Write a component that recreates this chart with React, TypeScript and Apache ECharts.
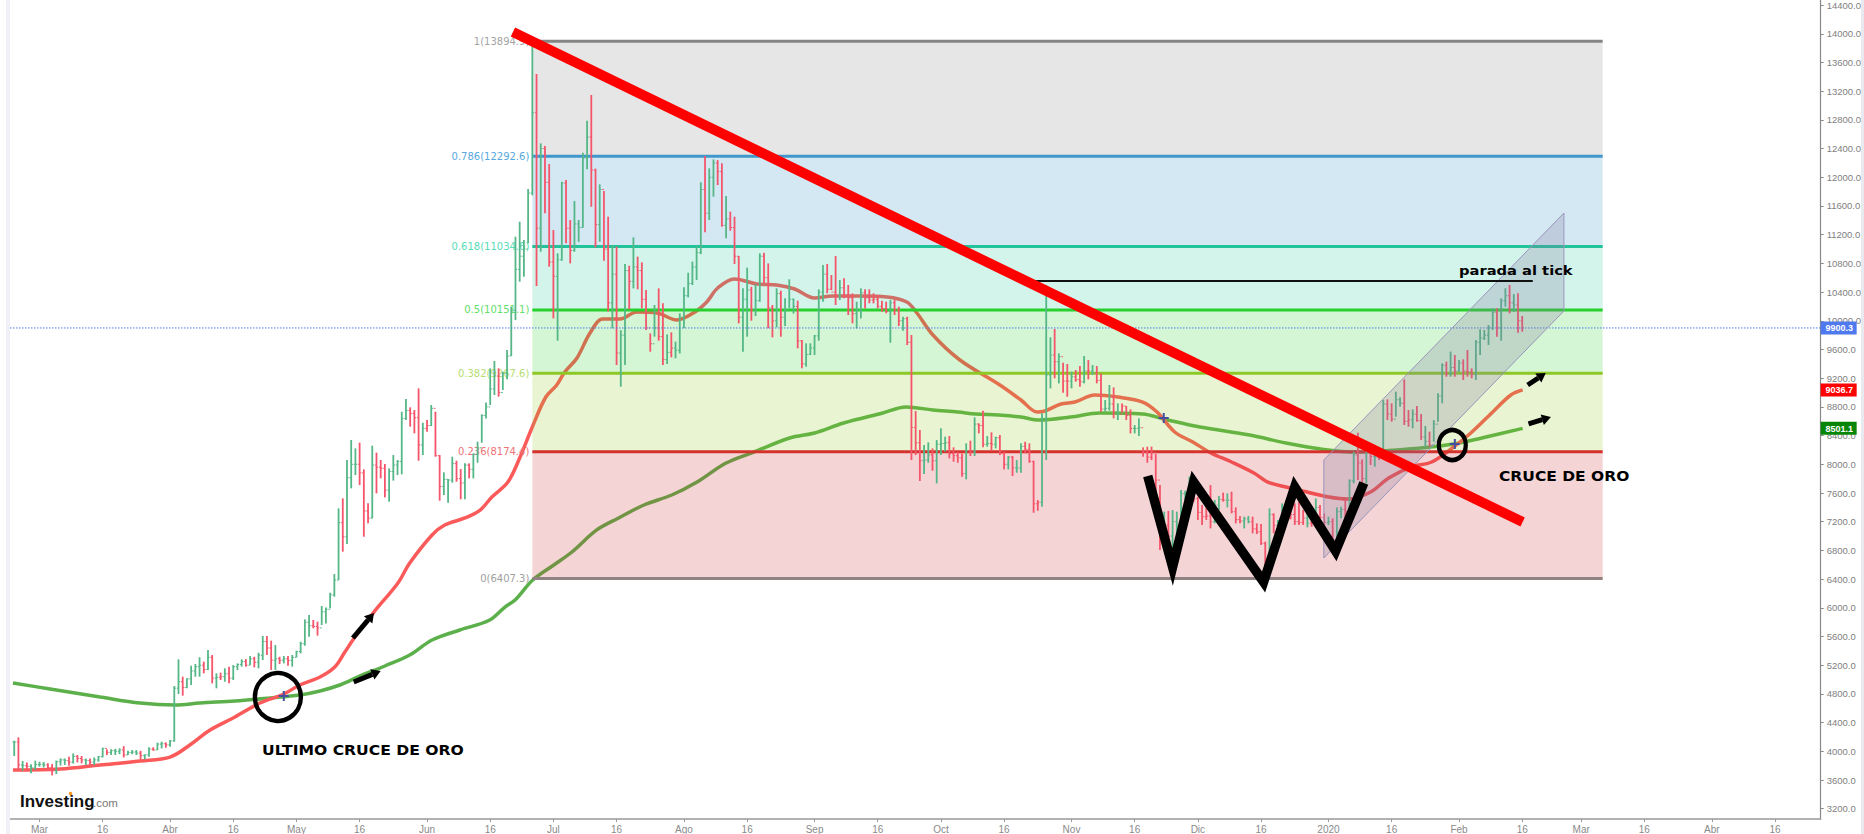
import React, { useEffect, useRef } from "react";
import * as echarts from "echarts";

// ---- axis ----
const xTickDays = [0, 15, 31, 46, 61, 76, 92, 107, 122, 137, 153, 168, 184, 199, 214, 229, 245, 260, 275, 290, 306, 321, 337, 352, 366, 381, 397, 412];
const xTickLabels = ["Mar", "16", "Abr", "16", "May", "16", "Jun", "16", "Jul", "16", "Ago", "16", "Sep", "16", "Oct", "16", "Nov", "16", "Dic", "16", "2020", "16", "Feb", "16", "Mar", "16", "Abr", "16"];
const yTicks = [3200, 3600, 4000, 4400, 4800, 5200, 5600, 6000, 6400, 6800, 7200, 7600, 8000, 8400, 8800, 9200, 9600, 10000, 10400, 10800, 11200, 11600, 12000, 12400, 12800, 13200, 13600, 14000, 14400];

// ---- daily bars, first bar is day -6 (day 0 = 1 March 2019) ----
const firstBarDay = -6;
const barHighs = [
  4148, 4195, 3865, 3845, 3820, 3870, 3855, 3850, 3832, 3822,
  3870, 3902, 3900, 3925, 3970, 3948, 3935, 3900, 3900, 3915,
  3935, 4050, 4027, 4030, 4035, 4040, 4072, 4008, 4017, 4017,
  4008, 3957, 4055, 4055, 4120, 4134, 4125, 4157, 4910, 5282,
  5040, 5017, 5193, 5217, 5310, 5250, 5412, 5342, 5087, 5096,
  5157, 5180, 5202, 5226, 5282, 5286, 5328, 5318, 5374, 5607,
  5607, 5542, 5481, 5318, 5328, 5328, 5342, 5402, 5528, 5839,
  5900, 5830, 5807, 6025, 6006, 6211, 6471, 7386, 7525, 8060,
  8338, 8222, 8301, 7930, 7456, 8259, 8162, 8060, 8004, 7943,
  8129, 8060, 8733, 8910, 8794, 8757, 9058, 8580, 8617, 8826,
  8733, 8129, 7888, 7795, 8106, 8050, 7934, 8013, 8013, 8152,
  8315, 8696, 8863, 9337, 9440, 9337, 9291, 9593, 10197, 11172,
  11381, 11126, 11837, 13880, 13440, 12473, 12436, 12185, 11265, 10940,
  11938, 11962, 11405, 11670, 11405, 12343, 12789, 13147, 12120, 11902,
  11809, 11451, 11056, 11033, 9870, 10791, 10768, 11163, 10894, 10815,
  10429, 9825, 10220, 10452, 10243, 9811, 9839, 9709, 10104, 10466,
  10670, 10824, 11033, 11930, 12297, 12125, 12250, 12240, 12195, 11739,
  11521, 11451, 10903, 10452, 10740, 10475, 10508, 10940, 10949, 10800,
  10220, 10452, 10420, 10313, 10578, 10310, 10280, 9732, 9686, 9686,
  9802, 10438, 10777, 10791, 10638, 10903, 10568, 10592, 10499, 10382,
  10266, 10452, 10438, 10438, 10382, 10360, 10280, 10266, 10290, 10290,
  10197, 10057, 10057, 9802, 8742, 8478, 8268, 8305, 8222, 8338,
  8501, 8385, 8394, 8236, 8176, 8152, 8292, 8329, 8654, 8570,
  8747, 8394, 8445, 8385, 8408, 8176, 8115, 8115, 8059, 8292,
  8315, 8292, 8050, 7502, 8710, 10499, 9770, 9886, 9546, 9416,
  9398, 9290, 9314, 9370, 9509, 9453, 9384, 9370, 9267, 8896,
  9105, 9072, 8849, 8849, 8812, 8766, 8547, 8640, 8236, 8245,
  8246, 8143, 7711, 7340, 7350, 7363, 7340, 7642, 7632, 7828,
  7758, 7549, 7433, 7410, 7711, 7502, 7558, 7605, 7595, 7618,
  7400, 7280, 7270, 7280, 7270, 7177, 7168, 6921, 7386, 7317,
  7224, 7456, 7500, 7363, 7456, 7479, 7363, 7316, 7363, 7525,
  7433, 7316, 7270, 7247, 7400, 7409, 7502, 7790, 8176, 8441,
  8069, 8246, 8269, 8176, 8200, 8896, 8905, 8850, 9012, 8933,
  9184, 8757, 8766, 8812, 8701, 8534, 8455, 8617, 8989, 9407,
  9430, 9570, 9523, 9454, 9463, 9593, 9337, 9732, 9881, 9872,
  9941, 10174, 10174, 10313, 10452, 10499, 10373, 10383, 10067,
];
const barLows = [
  3934, 3730, 3730, 3740, 3693, 3740, 3785, 3775, 3748, 3665,
  3683, 3800, 3810, 3800, 3830, 3845, 3832, 3810, 3810, 3810,
  3855, 3915, 3948, 3948, 3948, 3960, 3915, 3948, 3960, 3948,
  3887, 3887, 3925, 4008, 4017, 4040, 4050, 4065, 4134, 4798,
  4775, 4880, 4924, 5040, 5040, 5087, 5133, 4947, 4878, 4994,
  4970, 4947, 4994, 5133, 5180, 5180, 5202, 5170, 5156, 5272,
  5342, 5133, 5133, 5216, 5226, 5193, 5180, 5310, 5365, 5472,
  5598, 5714, 5612, 5760, 5783, 5993, 6155, 6387, 6782, 6889,
  7665, 7850, 7711, 6991, 7177, 7247, 7595, 7804, 7539, 7479,
  7772, 7850, 7860, 8617, 8524, 8431, 8050, 8129, 8455, 8533,
  8106, 7493, 7572, 7465, 7744, 7758, 7512, 7512, 7804, 7804,
  8022, 8301, 8640, 8826, 8965, 8943, 9035, 9184, 9509, 10011,
  10545, 10615, 11080, 11750, 10485, 10963, 11498, 10754, 10034, 9723,
  10838, 11080, 10800, 10963, 11100, 11298, 12111, 11590, 11024, 11103,
  10838, 10130, 9895, 9384, 9082, 9384, 10160, 10452, 10438, 10173,
  9871, 9569, 9779, 9723, 9384, 9398, 9490, 9477, 9546, 9895,
  10327, 10499, 10569, 10930, 11233, 11405, 11730, 11892, 11312, 11150,
  11256, 10791, 9964, 9570, 9779, 10002, 10067, 10266, 10522, 9895,
  9769, 9909, 9778, 9928, 10173, 10100, 9616, 9337, 9360, 9523,
  9523, 9723, 10266, 10383, 10429, 10220, 10290, 10313, 10080, 9964,
  9895, 10034, 10173, 10243, 10243, 10173, 10127, 10104, 9695, 10080,
  9927, 9862, 9662, 8059, 8129, 7767, 7864, 8022, 7911, 7734,
  8129, 8176, 8083, 8036, 8022, 7827, 7790, 8115, 8115, 8431,
  8236, 8245, 8190, 8222, 8129, 7929, 7929, 7836, 7883, 7883,
  8152, 8022, 7325, 7353, 7409, 8060, 9058, 9198, 9128, 8998,
  8942, 9058, 9151, 9082, 9128, 9184, 9244, 9128, 8733, 8733,
  8747, 8640, 8617, 8719, 8617, 8431, 8431, 8394, 8106, 8022,
  8060, 7549, 6805, 7085, 6875, 6527, 6898, 6991, 7502, 7595,
  7479, 7224, 7154, 7224, 7107, 7177, 7363, 7479, 7400, 7316,
  7177, 7177, 7107, 7177, 7038, 7028, 6875, 6527, 6434, 7038,
  6991, 7200, 7200, 7233, 7154, 7154, 7154, 7121, 7130, 7247,
  7223, 7154, 7154, 6945, 6852, 7247, 7224, 7363, 7735, 7781,
  7735, 7735, 7990, 7967, 8060, 8106, 8617, 8594, 8664, 8803,
  8548, 8524, 8501, 8594, 8339, 8246, 8246, 8315, 8594, 8850,
  9221, 9221, 9221, 9291, 9175, 9221, 9198, 9175, 9523, 9732,
  9663, 9872, 9779, 9723, 10197, 10104, 10127, 9835, 9848,
];
const barCloses = [
  4130, 3810, 3800, 3790, 3770, 3815, 3820, 3810, 3775, 3730,
  3855, 3880, 3870, 3850, 3930, 3900, 3880, 3870, 3850, 3880,
  3925, 4040, 3985, 4010, 4000, 4020, 3950, 3985, 3990, 3975,
  3940, 3950, 4030, 4020, 4100, 4105, 4090, 4145, 4880, 4970,
  4890, 5010, 5120, 5180, 5200, 5140, 5310, 5020, 5030, 5040,
  5080, 5020, 5180, 5210, 5250, 5200, 5290, 5240, 5340, 5530,
  5440, 5270, 5290, 5270, 5290, 5265, 5310, 5390, 5500, 5800,
  5750, 5740, 5720, 5945, 5980, 6180, 6387, 7186, 6990, 7813,
  8000, 8000, 7880, 7350, 7250, 7990, 7960, 7945, 7640, 7900,
  7990, 8040, 8640, 8750, 8710, 8650, 8270, 8500, 8540, 8780,
  8120, 7690, 7790, 7780, 8010, 7800, 7740, 7990, 7930, 8140,
  8230, 8680, 8800, 9050, 9230, 9000, 9270, 9510, 10150, 10717,
  10900, 11000, 11780, 12900, 11290, 12400, 11930, 10820, 10620, 10850,
  11920, 11290, 10980, 11350, 11300, 12270, 12560, 12100, 11340, 11830,
  11000, 10250, 10650, 9550, 9800, 10700, 10550, 10750, 10700, 10300,
  9900, 9680, 9900, 9780, 9460, 9560, 9620, 9590, 10050, 10350,
  10520, 10750, 10950, 11830, 11500, 12000, 12200, 12080, 11330, 11420,
  11300, 10900, 10050, 10300, 10430, 10150, 10280, 10900, 10600, 10180,
  10000, 10380, 10050, 10150, 10300, 10200, 9720, 9400, 9530, 9620,
  9790, 10400, 10650, 10440, 10400, 10350, 10460, 10340, 10320, 10100,
  10150, 10390, 10320, 10290, 10300, 10200, 10170, 10130, 10250, 10150,
  10000, 10030, 9700, 8515, 8300, 8050, 8060, 8130, 8050, 8280,
  8290, 8300, 8150, 8120, 8090, 7870, 8190, 8170, 8560, 8540,
  8280, 8290, 8280, 8370, 8150, 8000, 8100, 7950, 7950, 8250,
  8210, 8040, 7450, 7470, 8640, 9245, 9523, 9430, 9500, 9160,
  9160, 9220, 9180, 9150, 9300, 9300, 9270, 9170, 8770, 8780,
  8840, 8730, 8700, 8810, 8680, 8500, 8500, 8510, 8170, 8100,
  8160, 7780, 7000, 7150, 7000, 7200, 7150, 7590, 7580, 7700,
  7520, 7330, 7270, 7280, 7200, 7430, 7510, 7500, 7500, 7340,
  7230, 7210, 7240, 7200, 7100, 7060, 6900, 6620, 7300, 7150,
  7200, 7300, 7250, 7300, 7200, 7190, 7250, 7180, 7300, 7400,
  7260, 7190, 7200, 6950, 7340, 7370, 7340, 7770, 8130, 8020,
  7800, 8180, 8110, 8100, 8090, 8840, 8700, 8630, 8900, 8850,
  8600, 8620, 8700, 8610, 8380, 8320, 8270, 8560, 8950, 9380,
  9260, 9350, 9300, 9410, 9300, 9290, 9250, 9700, 9760, 9800,
  9900, 10120, 9900, 10280, 10350, 10250, 10220, 10000, 9900.3,
];
const barDirections = [
  "GRGRGGGGRR", "GGGRGRRGRG", "GGRGGGRGGG", "RGGRGGRGGG", "RGGGGRGRGR",
  "GRGGGRGRGG", "RRGRGRGGGG", "GRRGGGGGRG", "GGRRRGRRRG", "GGGGRRRGRG",
  "RRGGGRRGRG", "GGGGGRGGGG", "GGGGRGRRRG", "GRRGGGGRRG", "RRGRGGRGRR",
  "RRGRRGRGGG", "GGGGRGGRRG", "RRRGGRGGRR", "RGRGGGRRGG", "GGGRRRGRRR",
  "GGRRRRRRGR", "RGRRRRGGRG", "GGRRRRGRGR", "RGRGRRGRGG", "RRRRGGGRGR",
  "RGRRGRGRRG", "GRGRRRGGRR", "RRRGRGGGGG", "RRRRRGGRGR", "RRGGRRRRGR",
  "GGGRRRRGRG", "RRGRGGRGGR", "RGRGRGRRGG", "RRGRRGRGGG", "RGRGRRRGGG",
  "GGRGGRGRR",
].join("");

// ---- moving averages ----
const redMaDays = [-6.3, 4.9, 14.4, 23.9, 31, 35.7, 40.5, 46.4, 52.3, 58, 61.8, 66.6, 70.1, 72.5, 74.9, 79.4, 85.1, 87.9, 93.2, 96.2, 101, 104.6, 107.4, 111.2, 114, 116.9, 120.2, 122.8, 124.7, 127.6, 130.7, 133.7, 137.8, 141.8, 146.6, 151.3, 155.6, 158.4, 161, 165, 170.3, 175, 179.3, 184, 188.3, 194.7, 201.2, 205.9, 208.3, 212.1, 218.5, 228, 233, 236.9, 238.7, 242.5, 245.8, 250.5, 256, 261.9, 265.3, 269.5, 273.8, 278.1, 283, 288.3, 291.6, 295.9, 300.9, 306.1, 310.6, 316, 320.3, 325.5, 330.5, 335.7, 339.8, 345, 349.3, 352.1];
const redMaValues = [3740, 3753, 3809, 3865, 3920, 4088, 4297, 4478, 4673, 4799, 4924, 5036, 5175, 5384, 5593, 5941, 6346, 6624, 7015, 7154, 7252, 7363, 7544, 7753, 8088, 8506, 8938, 9105, 9286, 9482, 9830, 10025, 10025, 10123, 10109, 10011, 10123, 10262, 10457, 10583, 10513, 10499, 10443, 10318, 10346, 10346, 10332, 10262, 10109, 9802, 9454, 9105, 8896, 8729, 8743, 8840, 8868, 8966, 8938, 8868, 8729, 8450, 8311, 8158, 8032, 7879, 7753, 7684, 7614, 7544, 7516, 7614, 7809, 7962, 8032, 8241, 8436, 8729, 8966, 9036.7];
const greenMaDays = [-6.3, 2.5, 14.4, 23.9, 32.2, 38.1, 46.4, 54.7, 61.8, 66.6, 71.3, 76.1, 82, 87.9, 93.2, 99.8, 106.9, 110.5, 112.9, 117.1, 122.1, 126.4, 132.3, 137.5, 143.5, 150.1, 156.1, 163, 169.6, 178.1, 184, 190.9, 200.2, 205.7, 212.1, 218, 222.3, 227.7, 233, 237.3, 244.8, 251.7, 261.9, 266.9, 275.5, 287.3, 295.9, 304.2, 312.7, 327.9, 335.7, 342.4, 352.1];
const greenMaValues = [4952, 4869, 4757, 4673, 4645, 4673, 4701, 4743, 4785, 4841, 4924, 5050, 5189, 5342, 5551, 5691, 5830, 6011, 6109, 6388, 6597, 6778, 7085, 7252, 7433, 7572, 7753, 8018, 8171, 8367, 8436, 8576, 8715, 8799, 8757, 8729, 8701, 8687, 8659, 8617, 8659, 8715, 8701, 8631, 8520, 8408, 8297, 8213, 8171, 8227, 8283, 8367, 8501.1];

// ---- fibonacci retracement ----
const fibLevels = ["1", "0.786", "0.618", "0.5", "0.382", "0.236", "0"];
const fibPrices = [13894.9, 12292.6, 11034.6, 10151.1, 9267.6, 8174.4, 6407.3];
const fibLineColors = ["#858585", "#3f97cc", "#22c39b", "#26d02d", "#8dc824", "#d5322e", "#8e8282"];
const fibLabelColors = ["#a3a3a3", "#58a9de", "#55dcb6", "#62e069", "#b5dd72", "#ef7277", "#a0a0a0"];
const fibFillColors = ["rgba(128,128,128,0.2)", "rgba(55,150,200,0.22)", "rgba(30,200,150,0.2)", "rgba(40,210,40,0.2)", "rgba(140,200,30,0.2)", "rgba(200,40,45,0.2)"];
const fibStartDay = 117;
const fibEndDay = 371.1;

// ---- drawn annotations, in chart units ----
const trendDays = [112.4, 352.1];
const trendPrices = [14025, 7196];
const stopDays = [233.7, 354.5];
const stopPrices = [10555, 10555];
const wDays = [263.1, 269, 274, 290.6, 298, 307.7, 314.4];
const wPrices = [7837, 6569, 7753, 6360, 7684, 6792, 7739];
const channelDays = [304.9, 304.9, 361.9, 361.9];
const channelPrices = [6694, 8060, 11502, 10137];
const circleDays = [56.6, 335.4];
const circlePrices = [4757, 8269];
const circleSizes = [[46, 48], [27, 30]];
const crossDays = [58, 266.9, 336];
const crossPrices = [4771, 8645, 8283];
const arrowRows = [
  [74.4, 5579, 79.4, 5928],
  [74.6, 4966, 81, 5119],
  [353.3, 9105, 357.6, 9272],
  [353.5, 8562, 358.8, 8659],
];
const lastPrice = 9900.3;
const tagPrices = [9900.3, 9036.7, 8501.1];
const tagColors = ["#4f79ee", "#ff0000", "#078507"];

const GREEN = "#55b787";
const RED = "#f4556a";
const X_MIN = -7;
const X_MAX = 422.85;
const Y_MIN = 3056.6;
const Y_MAX = 14471;

export default function App() {
  const ref = useRef<HTMLDivElement>(null);
  useEffect(() => {
    const chart = echarts.init(ref.current!, null, { renderer: "svg" });
    const barRows = barHighs.map((h, i) => [
      firstBarDay + i,
      i === 0 ? barCloses[0] : barCloses[i - 1],
      barCloses[i],
      barLows[i],
      h,
      barDirections[i] === "G" ? 1 : 0,
    ]);
    chart.setOption({
      animation: false,
      backgroundColor: "#fff",
      grid: { left: 10, right: 43, top: 0, height: 819, containLabel: false },
      xAxis: {
        type: "value",
        min: X_MIN,
        max: X_MAX,
        splitLine: { show: false },
        axisLine: { show: true, onZero: false, lineStyle: { color: "#999", width: 1.5 } },
        axisTick: { show: true, length: 3, customValues: xTickDays, lineStyle: { color: "#999" } },
        axisLabel: {
          customValues: xTickDays,
          color: "#8a8a8a",
          fontFamily: "Liberation Sans",
          fontSize: 10,
          margin: 5,
          formatter: (v: number) => xTickLabels[xTickDays.indexOf(v)] ?? "",
        },
      },
      yAxis: {
        type: "value",
        position: "right",
        min: Y_MIN,
        max: Y_MAX,
        splitLine: { show: false },
        axisLine: { show: true, onZero: false, lineStyle: { color: "#888", width: 1.2 } },
        axisTick: { show: true, length: 3, customValues: yTicks, lineStyle: { color: "#888" } },
        axisLabel: {
          customValues: yTicks,
          color: "#808080",
          fontFamily: "Liberation Sans",
          fontSize: 9.5,
          margin: 6,
          formatter: (v: number) => v.toFixed(1),
        },
      },
      series: [
        {
          type: "line", name: "ma200", z: 1, silent: true, showSymbol: false, smooth: 0.35,
          data: greenMaDays.map((d, i) => [d, greenMaValues[i]]),
          lineStyle: { color: "#5cb04b", width: 3.5 },
        },
        {
          type: "line", name: "ma50", z: 1, silent: true, showSymbol: false, smooth: 0.35,
          data: redMaDays.map((d, i) => [d, redMaValues[i]]),
          lineStyle: { color: "#fb5a5a", width: 3.5 },
        },
        {
          type: "custom", name: "fib", z: 2, silent: true,
          data: fibPrices.map((p, i) => [fibStartDay, p, fibEndDay, fibPrices[i + 1] ?? p]),
          renderItem: (params: any, api: any) => {
            const i = params.dataIndex;
            const a = api.coord([api.value(0), api.value(1)]);
            const b = api.coord([api.value(2), api.value(3)]);
            const children: any[] = [];
            if (i < fibFillColors.length) {
              children.push({
                type: "rect",
                shape: { x: a[0], y: a[1], width: b[0] - a[0], height: b[1] - a[1] },
                style: { fill: fibFillColors[i] },
              });
            }
            children.push({
              type: "line",
              shape: { x1: a[0], y1: a[1], x2: b[0], y2: a[1] },
              style: { stroke: fibLineColors[i], lineWidth: 3 },
            });
            children.push({
              type: "text",
              style: {
                text: `${fibLevels[i]}(${fibPrices[i].toFixed(1)})`,
                x: a[0] - 3,
                y: a[1],
                fill: fibLabelColors[i],
                font: '10px "DejaVu Sans"',
                align: "right",
                verticalAlign: "middle",
              },
            });
            return { type: "group", children };
          },
        },
        {
          type: "custom", name: "bars", z: 4, silent: true,
          data: barRows,
          renderItem: (_p: any, api: any) => {
            const d = api.value(0);
            const top = api.coord([d, api.value(4)]);
            const bottom = api.coord([d, api.value(3)]);
            const o = api.coord([d, api.value(1)]);
            const c = api.coord([d, api.value(2)]);
            const color = api.value(5) ? GREEN : RED;
            const style = { stroke: color, lineWidth: 1.8 };
            return {
              type: "group",
              children: [
                { type: "line", shape: { x1: top[0], y1: top[1], x2: bottom[0], y2: bottom[1] }, style },
                { type: "line", shape: { x1: o[0] - 1.7, y1: o[1], x2: o[0], y2: o[1] }, style: { stroke: color, lineWidth: 1 } },
                { type: "line", shape: { x1: c[0], y1: c[1], x2: c[0] + 1.7, y2: c[1] }, style: { stroke: color, lineWidth: 1 } },
              ],
            };
          },
        },
        {
          type: "line", name: "last", z: 5, silent: true, showSymbol: false,
          data: [[X_MIN, lastPrice], [X_MAX, lastPrice]],
          lineStyle: { color: "#4f79ee", width: 1, type: [1.5, 1.5] },
        },
        {
          type: "custom", name: "channel", z: 6, silent: true,
          data: [channelDays.map((d, i) => [d, channelPrices[i]]).flat()],
          renderItem: (_p: any, api: any) => {
            const pts = [0, 2, 4, 6].map((k) => api.coord([api.value(k), api.value(k + 1)]));
            return {
              type: "polygon",
              shape: { points: pts },
              style: { fill: "rgba(130,120,160,0.25)", stroke: "#9b95bd", lineWidth: 1 },
            };
          },
        },
        {
          type: "line", name: "stop", z: 7, silent: true, showSymbol: false,
          data: stopDays.map((d, i) => [d, stopPrices[i]]),
          lineStyle: { color: "#111", width: 2 },
        },
        {
          type: "line", name: "w", z: 8, silent: true, showSymbol: false,
          data: wDays.map((d, i) => [d, wPrices[i]]),
          lineStyle: { color: "#000", width: 9.5, join: "miter", cap: "butt" },
        },
        {
          type: "line", name: "trend", z: 9, silent: true, showSymbol: false,
          data: trendDays.map((d, i) => [d, trendPrices[i]]),
          lineStyle: { color: "#ff0000", width: 10, cap: "butt" },
        },
        {
          type: "scatter", name: "cross", z: 10, silent: true,
          data: crossDays.map((d, i) => [d, crossPrices[i]]),
          symbol: "path://M4 0h2v4h4v2h-4v4h-2v-4h-4v-2h4z",
          symbolSize: 10,
          itemStyle: { color: "#44509f", opacity: 1 },
        },
        {
          type: "scatter", name: "circles", z: 11, silent: true,
          data: circleDays.map((d, i) => ({ value: [d, circlePrices[i]], symbolSize: circleSizes[i] })),
          symbol: "circle",
          itemStyle: { color: "rgba(0,0,0,0)", borderColor: "#000", borderWidth: 4.5, opacity: 1 },
        },
        {
          type: "custom", name: "arrows", z: 11, silent: true,
          data: arrowRows,
          renderItem: (_p: any, api: any) => {
            const a = api.coord([api.value(0), api.value(1)]);
            const b = api.coord([api.value(2), api.value(3)]);
            const len = Math.hypot(b[0] - a[0], b[1] - a[1]);
            const ux = (b[0] - a[0]) / len;
            const uy = (b[1] - a[1]) / len;
            const base = [b[0] - ux * 9, b[1] - uy * 9];
            return {
              type: "group",
              children: [
                { type: "line", shape: { x1: a[0], y1: a[1], x2: base[0], y2: base[1] }, style: { stroke: "#000", lineWidth: 5 } },
                {
                  type: "polygon",
                  shape: { points: [b, [base[0] - uy * 5.5, base[1] + ux * 5.5], [base[0] + uy * 5.5, base[1] - ux * 5.5]] },
                  style: { fill: "#000" },
                },
              ],
            };
          },
        },
        {
          type: "custom", name: "tags", z: 12, silent: true,
          data: tagPrices.map((p) => [X_MAX, p]),
          renderItem: (params: any, api: any) => {
            const c = api.coord([api.value(0), api.value(1)]);
            return {
              type: "group",
              children: [
                { type: "rect", shape: { x: c[0], y: c[1] - 6.5, width: 36, height: 13 }, style: { fill: tagColors[params.dataIndex] } },
                {
                  type: "text",
                  style: {
                    text: tagPrices[params.dataIndex].toFixed(1),
                    x: c[0] + 18.5, y: c[1] + 0.5,
                    fill: "#fff",
                    font: 'bold 9px "Liberation Sans"',
                    align: "center",
                    verticalAlign: "middle",
                  },
                },
              ],
            };
          },
        },
      ],
      graphic: [
        { type: "rect", z: 100, silent: true, shape: { x: 6, y: 0, width: 4, height: 834 }, style: { fill: "#eff1f6" } },
        { type: "rect", z: 100, silent: true, shape: { x: 1861, y: 0, width: 3, height: 834 }, style: { fill: "#e8eaf0" } },
        { type: "text", z: 100, silent: true, x: 262, y: 750, scaleX: 1.076, style: { text: "ULTIMO CRUCE DE ORO", x: 0, y: 0, fill: "#000", font: 'bold 14.5px "DejaVu Sans"', verticalAlign: "middle" } },
        { type: "text", z: 100, silent: true, x: 1499, y: 476, scaleX: 1.07, style: { text: "CRUCE DE ORO", x: 0, y: 0, fill: "#000", font: 'bold 14.5px "DejaVu Sans"', verticalAlign: "middle" } },
        { type: "text", z: 100, silent: true, x: 1459, y: 270, scaleX: 1.13, style: { text: "parada al tick", x: 0, y: 0, fill: "#000", font: 'bold 13px "DejaVu Sans"', verticalAlign: "middle" } },
        { type: "text", z: 100, silent: true, style: { text: "Investing", x: 20, y: 801, fill: "#111", font: 'bold 17px "Liberation Sans"', verticalAlign: "middle" } },
        { type: "text", z: 100, silent: true, style: { text: ".com", x: 93, y: 803, fill: "#777", font: '11.5px "Liberation Sans"', verticalAlign: "middle" } },
        { type: "circle", z: 101, silent: true, shape: { cx: 70.5, cy: 793.5, r: 1.8 }, style: { fill: "#f7941d" } },
      ],
    });
    return () => chart.dispose();
  }, []);
  return <div ref={ref} style={{ position: "fixed", left: 0, top: 0, width: 1864, height: 834 }} />;
}
